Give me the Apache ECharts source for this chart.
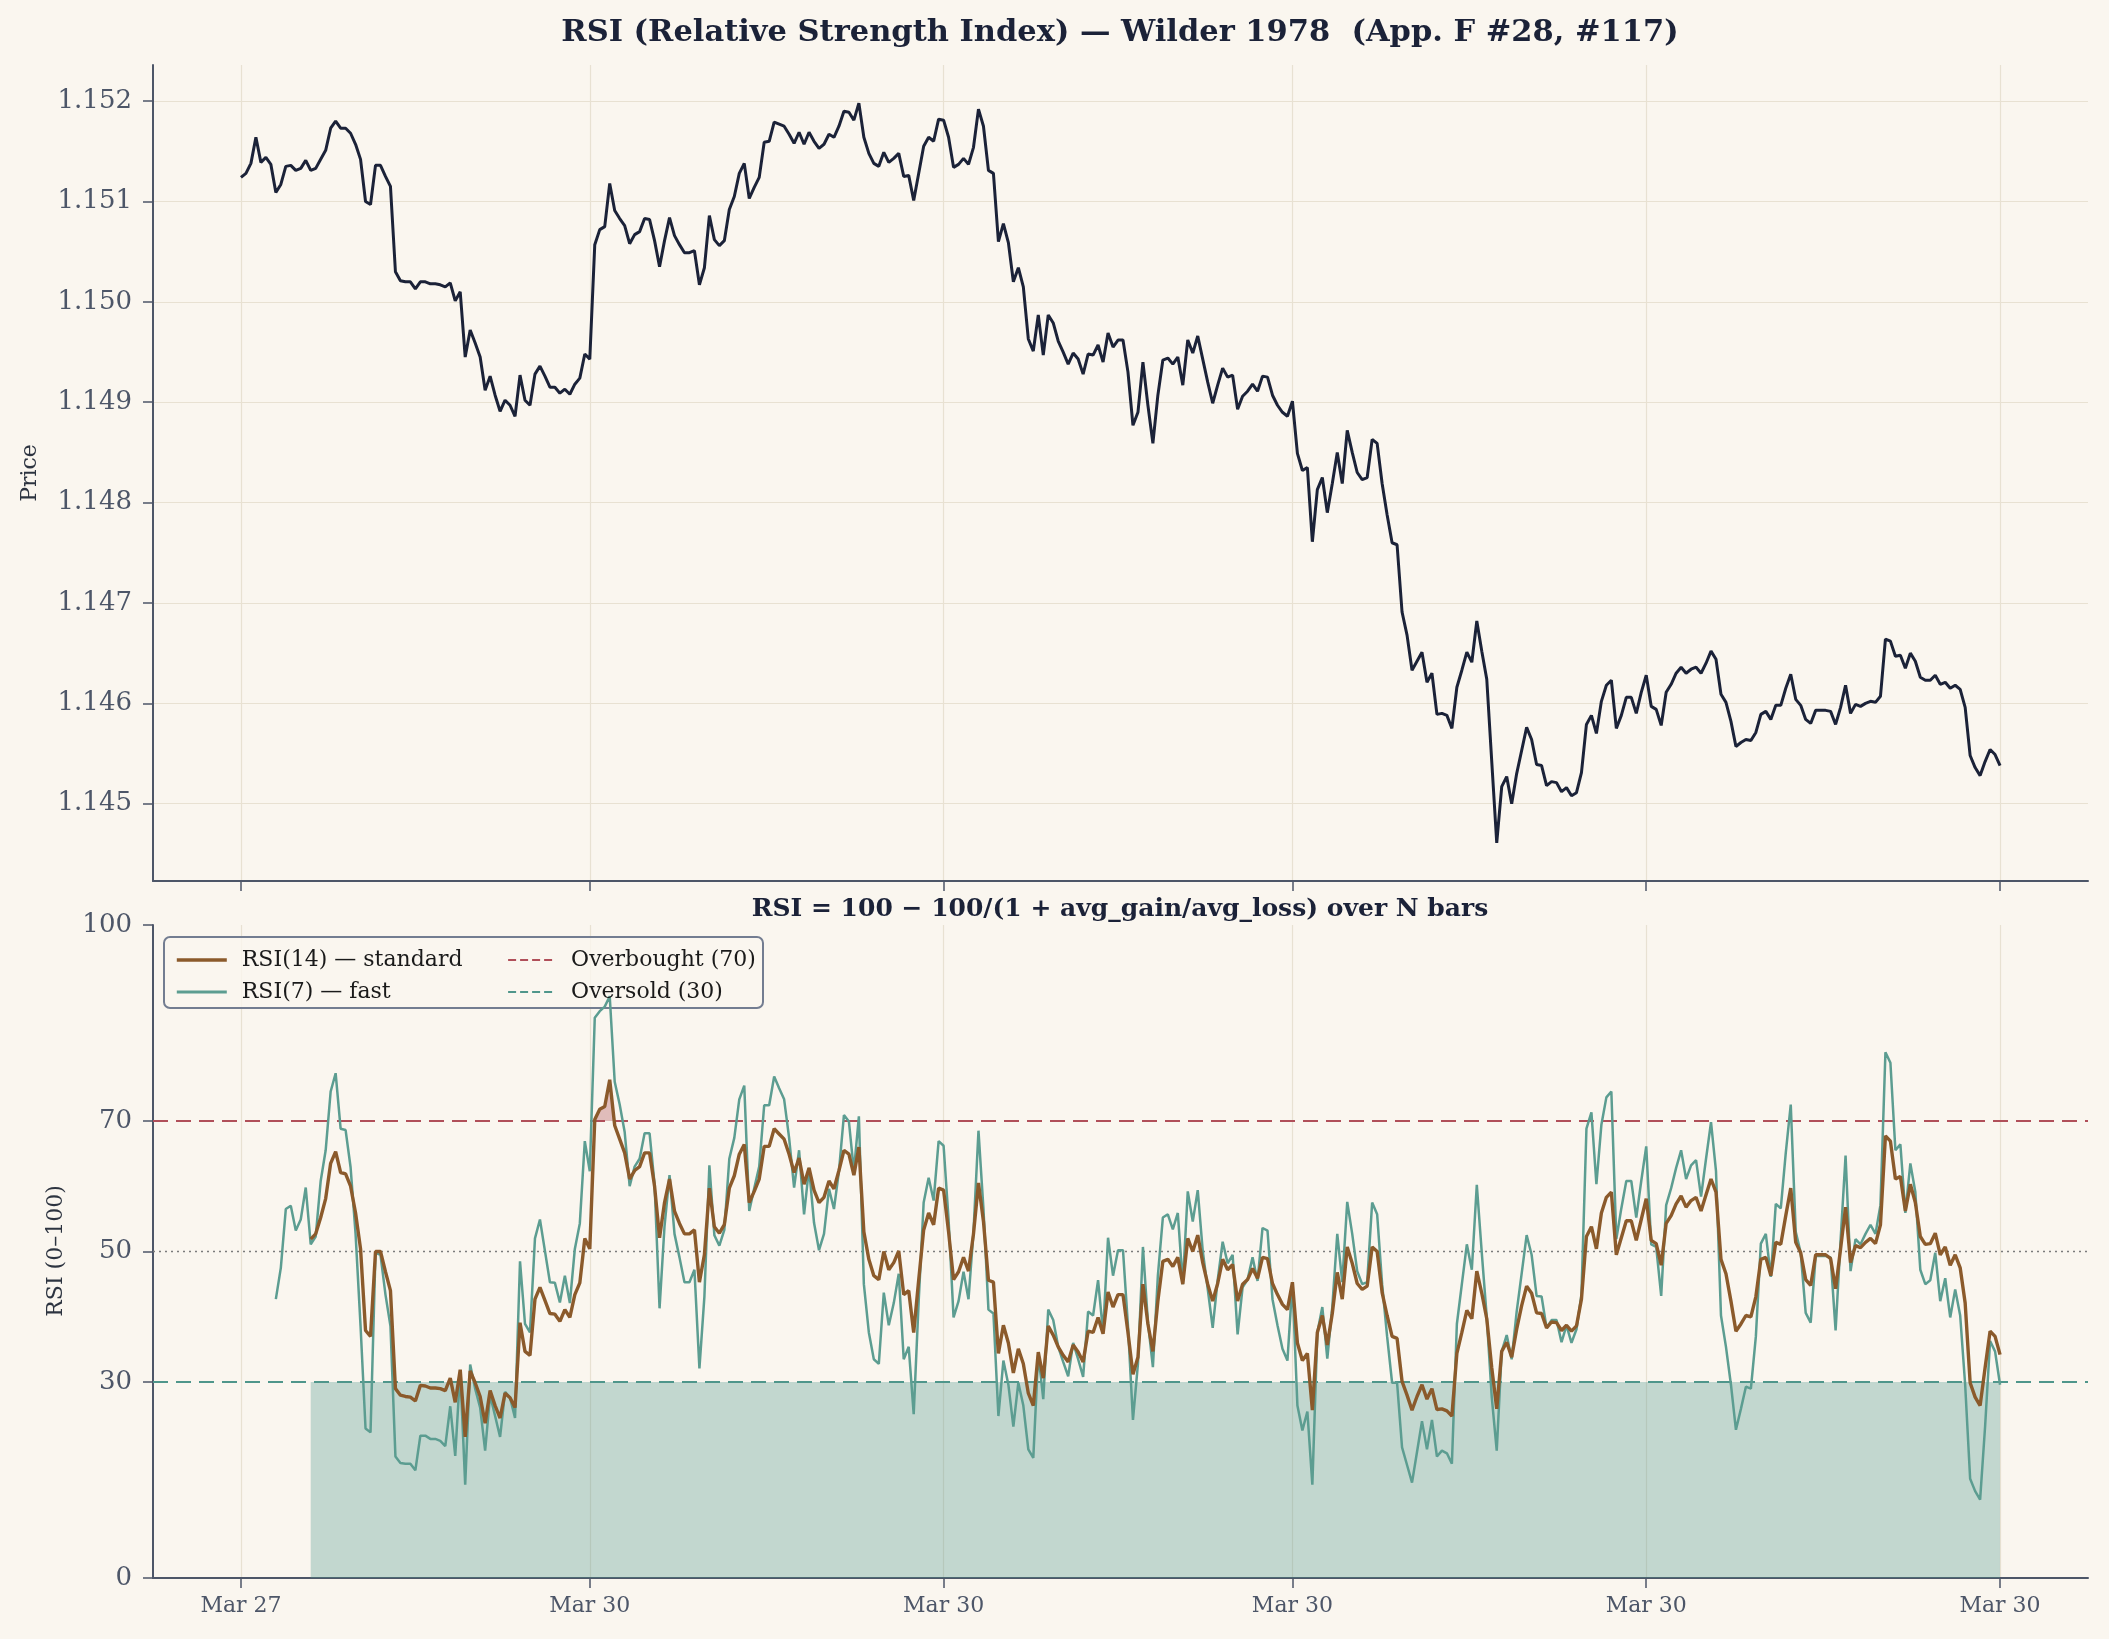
<!DOCTYPE html>
<html><head><meta charset="utf-8">
<script src="https://cdn.jsdelivr.net/npm/echarts@6/dist/echarts.min.js"></script>
<style>html,body{margin:0;padding:0;background:#faf6ef;}#c{width:2109px;height:1639px;}</style>
</head><body><div id="c"></div>
<script>
// ---------------- DATA ----------------
const price = [
1.15124,1.15128,1.15138,1.15164,1.15139,1.15144,1.15137,1.15109,1.15117,1.15135,
1.15136,1.15131,1.15133,1.15141,1.15131,1.15133,1.15142,1.15151,1.15173,1.15180,
1.15173,1.15173,1.15168,1.15157,1.15142,1.15100,1.15097,1.15136,1.15136,1.15125,
1.15115,1.15030,1.15021,1.15020,1.15020,1.15013,1.15020,1.15020,1.15018,1.15018,
1.15017,1.15015,1.15019,1.15001,1.15010,1.14945,1.14972,1.14959,1.14945,1.14912,
1.14926,1.14907,1.14891,1.14902,1.14897,1.14886,1.14927,1.14902,1.14897,1.14928,
1.14936,1.14926,1.14915,1.14915,1.14909,1.14913,1.14908,1.14918,1.14924,1.14948,
1.14943,1.15057,1.15072,1.15075,1.15118,1.15091,1.15083,1.15076,1.15058,1.15067,
1.15070,1.15083,1.15082,1.15061,1.15035,1.15061,1.15084,1.15066,1.15057,1.15049,
1.15049,1.15051,1.15017,1.15034,1.15086,1.15062,1.15056,1.15061,1.15092,1.15105,
1.15128,1.15138,1.15103,1.15114,1.15124,1.15159,1.15160,1.15179,1.15177,1.15175,
1.15167,1.15158,1.15169,1.15157,1.15169,1.15160,1.15153,1.15157,1.15167,1.15164,
1.15175,1.15190,1.15189,1.15181,1.15198,1.15164,1.15148,1.15138,1.15135,1.15149,
1.15139,1.15143,1.15148,1.15125,1.15126,1.15101,1.15128,1.15155,1.15164,1.15160,
1.15182,1.15181,1.15164,1.15134,1.15137,1.15143,1.15137,1.15154,1.15192,1.15175,
1.15131,1.15128,1.15060,1.15078,1.15059,1.15020,1.15034,1.15015,1.14963,1.14951,
1.14987,1.14947,1.14987,1.14979,1.14961,1.14950,1.14938,1.14949,1.14943,1.14928,
1.14948,1.14947,1.14957,1.14940,1.14969,1.14955,1.14962,1.14962,1.14930,1.14877,
1.14890,1.14940,1.14897,1.14859,1.14907,1.14942,1.14944,1.14938,1.14945,1.14917,
1.14962,1.14949,1.14966,1.14943,1.14920,1.14899,1.14917,1.14934,1.14925,1.14927,
1.14893,1.14906,1.14911,1.14918,1.14911,1.14926,1.14925,1.14907,1.14897,1.14890,
1.14886,1.14901,1.14849,1.14832,1.14835,1.14761,1.14813,1.14825,1.14790,1.14819,
1.14850,1.14819,1.14872,1.14850,1.14830,1.14823,1.14825,1.14863,1.14859,1.14819,
1.14788,1.14760,1.14758,1.14691,1.14668,1.14633,1.14642,1.14651,1.14621,1.14630,
1.14589,1.14590,1.14588,1.14575,1.14616,1.14633,1.14651,1.14641,1.14682,1.14652,
1.14624,1.14542,1.14461,1.14517,1.14527,1.14500,1.14530,1.14553,1.14576,1.14564,
1.14539,1.14538,1.14518,1.14522,1.14521,1.14512,1.14516,1.14508,1.14511,1.14531,
1.14579,1.14588,1.14570,1.14602,1.14618,1.14623,1.14575,1.14588,1.14606,1.14606,
1.14590,1.14611,1.14628,1.14597,1.14594,1.14578,1.14611,1.14619,1.14630,1.14636,
1.14630,1.14634,1.14636,1.14630,1.14640,1.14652,1.14644,1.14609,1.14601,1.14582,
1.14557,1.14561,1.14564,1.14563,1.14571,1.14589,1.14592,1.14584,1.14598,1.14598,
1.14615,1.14629,1.14604,1.14598,1.14584,1.14580,1.14593,1.14593,1.14593,1.14592,
1.14579,1.14596,1.14618,1.14590,1.14599,1.14597,1.14600,1.14602,1.14601,1.14607,
1.14664,1.14662,1.14647,1.14648,1.14635,1.14650,1.14642,1.14626,1.14623,1.14623,
1.14628,1.14619,1.14621,1.14615,1.14618,1.14614,1.14596,1.14548,1.14536,1.14528,
1.14542,1.14554,1.14549,1.14538
];

// RSI(7) starts at bar 7
const RSI7_START = 7;
const rsi7 = [
42.7,47.5,56.5,
57.0,53.2,54.9,59.8,51.1,52.3,60.8,65.5,74.5,77.3,
68.8,68.6,62.9,52.7,38.6,22.9,22.3,49.8,49.5,43.4,
38.6,18.6,17.6,17.5,17.5,16.5,21.8,21.8,21.3,21.3,
21.0,20.2,26.3,18.7,31.8,14.3,32.7,29.0,26.1,19.5,
28.0,24.8,21.6,28.5,27.6,24.5,48.5,38.9,37.6,52.0,
54.9,50.1,45.3,45.2,42.2,46.3,42.1,50.4,54.3,66.9,
62.3,85.8,86.8,87.5,89.1,76.0,72.5,68.3,60.0,63.0,
64.2,68.1,68.1,60.3,41.3,53.9,61.7,52.7,49.1,45.3,
45.3,47.2,32.1,43.1,63.2,52.5,50.9,53.3,64.2,67.4,
73.3,75.4,56.2,59.7,63.0,72.4,72.4,76.8,75.0,73.3,
67.4,59.8,65.5,55.7,62.8,54.4,50.2,52.7,59.6,56.5,
62.3,70.9,69.9,62.3,70.7,45.0,37.6,33.5,32.8,43.7,
38.7,42.1,46.6,33.5,35.4,25.1,42.4,57.5,61.3,57.8,
66.9,66.2,54.9,39.9,42.4,46.9,42.7,53.0,68.5,56.5,
41.1,40.5,24.8,33.3,29.6,23.2,29.9,26.4,19.7,18.4,
34.4,27.4,41.1,39.5,35.4,33.1,30.9,36.0,33.5,30.8,
40.8,40.2,45.6,37.6,52.1,46.3,50.2,50.2,38.6,24.2,
32.8,50.7,39.2,32.3,46.3,55.2,55.7,53.4,55.9,45.0,
59.2,54.6,59.4,50.1,44.3,38.3,45.6,51.5,48.2,49.5,
37.3,44.5,45.7,49.1,45.5,53.6,53.2,42.7,38.7,35.1,
33.3,45.3,26.4,22.6,25.5,14.3,37.6,41.5,33.6,41.5,
52.7,45.3,57.6,52.7,47.0,45.0,45.3,57.5,55.7,45.0,
37.0,29.9,29.9,20.0,17.3,14.6,19.3,24.0,19.7,24.2,
18.6,19.5,19.1,17.5,38.9,45.0,51.1,47.2,60.2,49.8,
39.9,27.7,19.5,34.7,37.2,33.5,40.8,46.6,52.5,49.5,
43.2,43.1,38.3,39.5,39.5,36.1,38.7,36.0,38.1,43.4,
68.8,71.3,60.3,69.4,73.6,74.5,51.9,56.6,60.8,60.8,
55.2,60.8,66.1,51.1,50.7,43.2,57.1,59.7,62.8,65.5,
61.1,63.2,64.0,58.4,64.2,69.8,62.3,40.2,35.4,29.6,
22.7,25.9,29.3,29.0,37.0,51.2,52.7,46.1,57.3,56.6,
65.1,72.5,53.0,49.8,40.6,39.1,49.3,49.3,49.3,49.1,
37.9,51.7,64.7,47.0,51.9,51.1,52.7,54.1,52.7,57.1,
80.5,78.9,65.5,66.4,55.9,63.5,59.1,47.2,45.0,45.6,
49.8,42.4,45.9,39.9,44.2,40.2,29.6,15.2,13.3,12.0,
23.2,36.3,34.7,29.6
];

// RSI(14) starts at bar 14
const RSI14_START = 14;
const rsi14 = [
51.9,52.7,55.2,58.1,63.5,65.3,
62.1,61.9,60.0,55.9,50.4,37.9,37.0,50.0,50.0,46.9,
44.0,29.0,28.0,27.8,27.7,27.1,29.5,29.4,29.1,29.1,
29.0,28.7,30.6,26.9,31.9,21.6,31.7,29.9,27.8,23.7,
28.7,26.4,24.5,28.3,27.6,26.1,39.1,34.7,34.1,42.7,
44.5,42.5,40.5,40.4,39.3,41.1,39.9,43.4,45.2,52.0,
50.4,70.2,71.8,72.2,76.3,69.3,67.2,65.1,61.1,62.4,
63.0,65.1,65.1,60.0,52.1,57.5,61.1,56.2,54.3,52.7,
52.7,53.3,45.3,49.5,59.7,53.8,52.8,54.1,59.7,61.6,
64.9,66.4,57.5,59.2,61.1,66.1,66.1,68.8,68.0,67.2,
64.9,62.1,64.3,60.3,62.8,59.4,57.5,58.3,60.8,59.6,
62.4,65.5,64.9,61.7,66.0,53.0,48.8,46.3,45.7,50.0,
47.2,48.3,50.1,43.4,44.0,37.6,45.6,53.3,55.9,54.1,
59.7,59.4,53.0,45.7,46.9,49.1,47.0,52.7,60.5,54.6,
45.6,45.3,34.4,38.7,36.0,31.4,35.1,32.8,28.3,26.4,
34.6,30.6,38.6,37.2,35.4,34.1,33.1,35.7,34.6,33.1,
37.8,37.6,39.9,37.4,43.8,41.5,43.4,43.4,37.6,31.2,
33.8,45.0,38.9,34.7,42.4,48.5,48.8,47.7,49.1,45.0,
52.0,50.0,52.5,48.3,45.0,42.4,45.1,48.8,47.2,48.0,
42.4,45.0,45.7,47.4,45.9,49.1,48.9,45.1,43.4,41.9,
41.1,45.3,36.0,33.3,34.4,25.7,37.6,40.2,35.7,40.5,
46.8,42.7,50.7,48.2,45.1,44.2,44.7,50.7,50.0,43.7,
40.2,37.0,36.7,30.1,28.0,25.7,27.8,29.6,27.4,29.0,
25.8,25.9,25.6,24.8,34.4,37.6,41.0,39.7,47.0,43.6,
39.7,32.2,25.9,34.7,36.1,33.8,38.1,41.7,44.7,43.6,
40.6,40.5,38.3,39.2,39.1,37.9,38.7,37.8,38.6,42.7,
52.3,53.8,50.4,55.9,58.3,59.1,49.5,52.1,54.7,54.7,
51.7,54.9,58.1,51.7,51.2,47.9,54.3,55.5,57.3,58.5,
56.8,57.8,58.3,56.2,58.7,61.1,59.1,48.8,46.6,42.4,
37.8,38.9,40.2,40.0,43.1,48.8,49.1,46.3,51.4,51.1,
55.5,59.7,51.4,49.8,45.7,44.8,49.5,49.5,49.5,48.9,
44.3,50.4,56.8,48.3,50.9,50.6,51.4,52.0,51.2,54.1,
67.7,66.9,61.1,61.5,56.2,60.3,57.5,52.3,51.1,51.2,
52.8,49.5,50.7,47.9,49.5,47.5,42.1,29.9,27.7,26.4,
32.2,37.8,37.0,34.2
];

const tickIndex  = [0, 70, 141, 211, 282, 353];
const tickLabels = ['Mar 27', 'Mar 30', 'Mar 30', 'Mar 30', 'Mar 30', 'Mar 30'];
const priceTicks = [1.145, 1.146, 1.147, 1.148, 1.149, 1.150, 1.151, 1.152];
const rsiTicks   = [0, 30, 50, 70, 100];
const OVERBOUGHT = 70, OVERSOLD = 30, MIDLINE = 50;

// axis extents (matplotlib-like 5% margins)
const XMIN = -17.65, XMAX = 370.65;
const PMIN = 1.14423, PMAX = 1.15236;

// ---------------- STYLE ----------------
const serif = '"DejaVu Serif", serif';
const C = {
  bg:'#faf6ef', grid:'#e8e1d2', axis:'#4d5668', label:'#4d5668', ink:'#1b2238',
  brown:'#8b5a2b', teal:'#5c9d91', red:'#b04f59', tealDash:'#4f968b', mid:'#7b7b7b'
};

const pricePts = price.map((v, i) => [i, v]);
const r14Pts = rsi14.map((v, k) => [k + RSI14_START, v]);
const r7Pts  = rsi7.map((v, k) => [k + RSI7_START, v]);
const bandPts = rsi14.map((v, k) => [k + RSI14_START, OVERSOLD]);
const obPts  = rsi14.map((v, k) => [k + RSI14_START, Math.max(v, OVERBOUGHT)]);

function xAxis(grid, showLabels) {
  return {
    type:'value', gridIndex:grid, min:XMIN, max:XMAX,
    axisLine:{show:true, onZero:false, lineStyle:{color:C.axis, width:2}},
    axisTick:{show:true, customValues:tickIndex, length:10, lineStyle:{color:C.axis, width:1.5}},
    axisLabel:{show:showLabels, customValues:tickIndex, margin:17,
      formatter:(v) => { const j = tickIndex.indexOf(Math.round(v)); return j >= 0 ? tickLabels[j] : ''; },
      fontFamily:serif, fontSize:22, color:C.label},
    splitLine:{show:true, lineStyle:{color:C.grid, width:1.2}}
  };
}

const legendText = {fontFamily:serif, fontSize:22, color:'#1a1a1a', lineHeight:24, padding:[0,0,0,10]};

const chart = echarts.init(document.getElementById('c'), null, {renderer:'canvas'});
chart.setOption({
  backgroundColor:C.bg,
  animation:false,
  grid:[
    {left:153, top:65, width:1935, height:816},
    {left:153, top:925, width:1935, height:653}
  ],
  xAxis:[ xAxis(0, false), xAxis(1, true) ],
  yAxis:[
    {type:'value', gridIndex:0, min:PMIN, max:PMAX,
     axisLine:{show:true, onZero:false, lineStyle:{color:C.axis, width:2}},
     axisTick:{show:true, customValues:priceTicks, length:10, lineStyle:{color:C.axis, width:1.5}},
     axisLabel:{customValues:priceTicks, formatter:(v)=>v.toFixed(3), margin:21,
       fontFamily:serif, fontSize:26, color:C.label},
     splitLine:{show:true, lineStyle:{color:C.grid, width:1.2}}},
    {type:'value', gridIndex:1, min:0, max:100,
     axisLine:{show:true, onZero:false, lineStyle:{color:C.axis, width:2}},
     axisTick:{show:true, customValues:rsiTicks, length:10, lineStyle:{color:C.axis, width:1.5}},
     axisLabel:{customValues:rsiTicks, margin:21, fontFamily:serif, fontSize:26, color:C.label},
     splitLine:{show:false}}
  ],
  legend:[
    {orient:'vertical', left:170, top:943, itemWidth:50, itemHeight:14, itemGap:8,
     itemStyle:{opacity:0},
     data:[{name:'RSI(14) — standard', lineStyle:{width:3.6}},
           {name:'RSI(7) — fast', lineStyle:{width:2.8}}],
     textStyle:legendText},
    {orient:'vertical', left:502, top:943, itemWidth:48, itemHeight:14, itemGap:8,
     itemStyle:{opacity:0},
     data:[{name:'Overbought (70)', lineStyle:{type:[8,4], width:2.2}},
           {name:'Oversold (30)', lineStyle:{type:[8,4], width:2.2}}],
     textStyle:legendText}
  ],
  graphic:[
    {type:'text', x:1120, y:33, z:10, style:{text:'RSI (Relative Strength Index) — Wilder 1978  (App. F #28, #117)',
      fontFamily:serif, fontWeight:'bold', fontSize:30.5, fill:C.ink, align:'center', verticalAlign:'middle'}},
    {type:'text', x:1120, y:909, z:10, style:{text:'RSI = 100 − 100/(1 + avg_gain/avg_loss) over N bars',
      fontFamily:serif, fontWeight:'bold', fontSize:25, fill:C.ink, align:'center', verticalAlign:'middle'}},
    {type:'text', x:30, y:473, rotation:Math.PI/2, z:10, style:{text:'Price',
      fontFamily:serif, fontSize:22, fill:'#2d3440', align:'center', verticalAlign:'middle'}},
    {type:'text', x:56, y:1251, rotation:Math.PI/2, z:10, style:{text:'RSI (0–100)',
      fontFamily:serif, fontSize:22, fill:'#2d3440', align:'center', verticalAlign:'middle'}},
    {type:'rect', z:3, shape:{x:164, y:937, width:599, height:71, r:6},
      style:{fill:'rgba(250,246,239,0.8)', stroke:'#737d91', lineWidth:2}}
  ],
  series:[
    {name:'Price', type:'line', xAxisIndex:0, yAxisIndex:0, data:pricePts, symbol:'none',
     lineStyle:{color:C.ink, width:3.0}, itemStyle:{color:C.ink}, silent:true},
    {name:'band', type:'line', xAxisIndex:1, yAxisIndex:1, data:bandPts, symbol:'none', z:1,
     lineStyle:{width:0}, areaStyle:{color:C.tealDash, opacity:0.32, origin:0}, silent:true},
    {name:'obfill', type:'line', xAxisIndex:1, yAxisIndex:1, data:obPts, symbol:'none', z:1,
     lineStyle:{width:0}, areaStyle:{color:C.red, opacity:0.35, origin:OVERBOUGHT}, silent:true},
    {name:'mid', type:'line', xAxisIndex:1, yAxisIndex:1, data:[[XMIN, MIDLINE],[XMAX, MIDLINE]], symbol:'none',
     lineStyle:{color:C.mid, width:1.4, type:[2,4]}, silent:true},
    {name:'Overbought (70)', type:'line', xAxisIndex:1, yAxisIndex:1, data:[[XMIN, OVERBOUGHT],[XMAX, OVERBOUGHT]],
     symbol:'none', lineStyle:{color:C.red, width:2, type:[15,8]}, itemStyle:{color:C.red}, silent:true},
    {name:'Oversold (30)', type:'line', xAxisIndex:1, yAxisIndex:1, data:[[XMIN, OVERSOLD],[XMAX, OVERSOLD]],
     symbol:'none', lineStyle:{color:C.tealDash, width:2, type:[15,8]}, itemStyle:{color:C.tealDash}, silent:true},
    {name:'RSI(7) — fast', type:'line', xAxisIndex:1, yAxisIndex:1, data:r7Pts, symbol:'none',
     lineStyle:{color:C.teal, width:2.5}, itemStyle:{color:C.teal}, silent:true},
    {name:'RSI(14) — standard', type:'line', xAxisIndex:1, yAxisIndex:1, data:r14Pts, symbol:'none',
     lineStyle:{color:C.brown, width:3.4}, itemStyle:{color:C.brown}, silent:true}
  ]
});
</script></body></html>
